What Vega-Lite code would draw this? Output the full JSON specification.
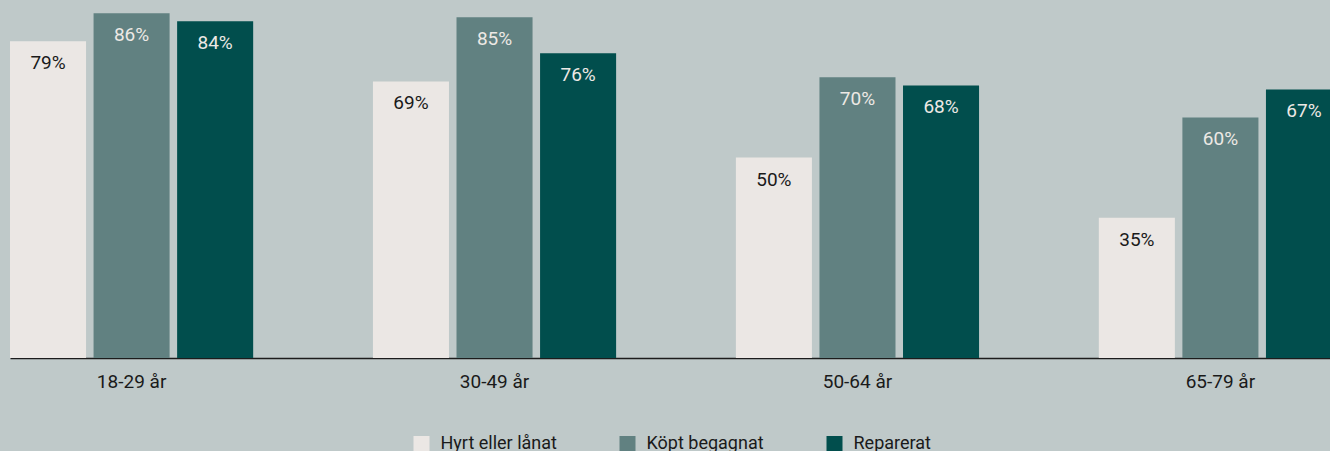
{
  "$schema": "https://vega.github.io/schema/vega-lite/v6.json",
  "width": 1320,
  "height": 358,
  "autosize": {"type": "none"},
  "padding": {"left": 10, "top": 0, "right": 0, "bottom": 93},
  "background": "#BFC9C9",
  "config": {"view": {"stroke": null}, "font": "Roboto"},
  "data": {
    "values": [
      {"age": "18-29 år", "type": "Hyrt eller lånat", "value": 0.79},
      {"age": "18-29 år", "type": "Köpt begagnat", "value": 0.86},
      {"age": "18-29 år", "type": "Reparerat", "value": 0.84},
      {"age": "30-49 år", "type": "Hyrt eller lånat", "value": 0.69},
      {"age": "30-49 år", "type": "Köpt begagnat", "value": 0.85},
      {"age": "30-49 år", "type": "Reparerat", "value": 0.76},
      {"age": "50-64 år", "type": "Hyrt eller lånat", "value": 0.50},
      {"age": "50-64 år", "type": "Köpt begagnat", "value": 0.70},
      {"age": "50-64 år", "type": "Reparerat", "value": 0.68},
      {"age": "65-79 år", "type": "Hyrt eller lånat", "value": 0.35},
      {"age": "65-79 år", "type": "Köpt begagnat", "value": 0.60},
      {"age": "65-79 år", "type": "Reparerat", "value": 0.67}
    ]
  },
  "encoding": {
    "x": {
      "field": "age",
      "type": "nominal",
      "sort": ["18-29 år", "30-49 år", "50-64 år", "65-79 år"],
      "scale": {"range": [0, 1332], "paddingInner": 0.33, "paddingOuter": 0},
      "axis": {
        "title": null,
        "labelAngle": 0,
        "ticks": false,
        "tickSize": 0,
        "domainColor": "#1c1c1c",
        "domainWidth": 1.5,
        "labelFontSize": 19,
        "labelPadding": 14,
        "labelColor": "#1a1a1a",
        "labelFont": "Roboto"
      }
    },
    "xOffset": {
      "field": "type",
      "type": "nominal",
      "sort": ["Hyrt eller lånat", "Köpt begagnat", "Reparerat"],
      "scale": {"paddingInner": 0.09, "paddingOuter": 0}
    },
    "y": {
      "field": "value",
      "type": "quantitative",
      "scale": {"domain": [0, 0.893], "nice": false},
      "axis": null
    }
  },
  "layer": [
    {
      "mark": {"type": "bar"},
      "encoding": {
        "color": {
          "field": "type",
          "type": "nominal",
          "sort": ["Hyrt eller lånat", "Köpt begagnat", "Reparerat"],
          "scale": {
            "domain": ["Hyrt eller lånat", "Köpt begagnat", "Reparerat"],
            "range": ["#EBE7E4", "#618181", "#014E4D"]
          },
          "legend": {
            "title": null,
            "orient": "none",
            "direction": "horizontal",
            "legendX": 402.5,
            "legendY": 435,
            "padding": 0,
            "symbolType": "square",
            "symbolSize": 256,
            "symbolStrokeWidth": 0,
            "labelFontSize": 18,
            "labelFont": "Roboto",
            "labelColor": "#1a1a1a",
            "labelOffset": 10,
            "columnPadding": 61
          }
        }
      }
    },
    {
      "mark": {"type": "text", "baseline": "alphabetic", "dy": 28, "fontSize": 19, "font": "Roboto"},
      "encoding": {
        "text": {"field": "value", "type": "quantitative", "format": ".0%"},
        "color": {
          "condition": {"test": "datum.type === 'Hyrt eller lånat'", "value": "#1a1a1a"},
          "value": "#EDE9E5"
        }
      }
    }
  ]
}
